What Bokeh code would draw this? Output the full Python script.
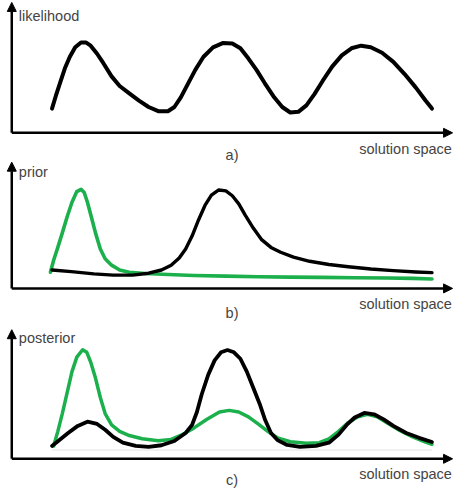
from bokeh.plotting import figure
from bokeh.models import Range1d, Arrow, NormalHead, Label
from bokeh.embed import file_html
from bokeh.resources import INLINE

# ---------------- data (arbitrary units) ----------------
# panel a) likelihood
like_x = [125, 137, 150, 165, 180, 197, 215, 230, 245, 265, 285, 310, 335, 365, 395, 425, 455, 485,
          505, 525, 545, 570, 595, 625, 655, 685, 710, 735, 760, 785, 815, 840, 865, 890, 915, 940,
          965, 995, 1025, 1055, 1085, 1115, 1150, 1185, 1220, 1255, 1285, 1305]
like_y = [75, 115, 155, 200, 235, 265, 280, 280, 270, 245, 215, 175, 145, 122, 100, 80, 67, 67,
          80, 110, 148, 195, 235, 265, 278, 277, 262, 230, 195, 155, 110, 80, 63, 65, 85, 120,
          160, 205, 240, 262, 270, 265, 248, 220, 182, 140, 100, 75]

# panel b) prior: green and black
prior_g_x = [120, 130, 143, 157, 172, 187, 202, 215, 225, 235, 247, 260, 275, 290, 310, 335, 365, 415,
             485, 565, 665, 765, 865, 965, 1065, 1165, 1245, 1305]
prior_g_y = [50, 87, 127, 172, 222, 267, 300, 307, 297, 267, 222, 172, 122, 92, 72, 57, 50, 46,
             43, 40, 38, 36, 35, 34, 33, 32, 31, 29]
prior_k_x = [125, 185, 255, 315, 375, 425, 465, 495, 520, 540, 560, 580, 600, 620, 643, 665, 685, 705,
             725, 750, 775, 805, 835, 875, 925, 985, 1045, 1115, 1185, 1255, 1305]
prior_k_y = [57, 52, 45, 41, 41, 47, 57, 72, 94, 122, 162, 212, 257, 289, 305, 302, 287, 262,
             227, 187, 152, 127, 112, 97, 84, 74, 67, 60, 55, 51, 49]

# panel c) posterior: green and black
post_g_x = [130, 143, 157, 172, 187, 202, 220, 233, 245, 260, 275, 290, 310, 335, 365, 405, 455, 495,
            530, 565, 605, 645, 675, 705, 735, 765, 795, 825, 865, 915, 955, 985, 1015, 1045, 1075,
            1105, 1135, 1165, 1205, 1245, 1285, 1305]
post_g_y = [40, 85, 140, 205, 270, 315, 338, 330, 300, 250, 190, 140, 105, 85, 72, 62, 56, 60,
            75, 95, 122, 145, 150, 145, 130, 108, 85, 65, 53, 48, 50, 62, 85, 112, 130,
            138, 130, 112, 88, 68, 52, 45]
post_k_x = [125, 150, 175, 205, 235, 265, 290, 315, 345, 385, 425, 465, 505, 540, 560, 575, 590, 610,
            630, 650, 670, 690, 710, 730, 750, 770, 787, 805, 825, 855, 895, 945, 985, 1015, 1040,
            1065, 1095, 1125, 1155, 1185, 1225, 1265, 1305]
post_k_y = [40, 60, 80, 102, 115, 108, 90, 68, 50, 40, 37, 42, 55, 80, 105, 145, 200, 260,
            305, 330, 337, 330, 310, 270, 220, 170, 120, 80, 58, 43, 37, 40, 50, 75, 105,
            128, 142, 138, 122, 102, 80, 65, 52]
base_x = [125, 1305]
base_y = [27, 27]

y_labels = ["likelihood", "prior", "posterior"]
x_label = "solution space"
panel_tags = ["a)", "b)", "c)"]

GREEN = "#1cb04c"
TEXT = "#444444"
FONT = "Liberation Sans"
FS = "14.5px"

# one figure, three stacked panels, each with its own vertical range
p = figure(width=454, height=488, x_range=Range1d(-35, 1375), y_range=Range1d(-1102, 410),
           output_backend="svg", toolbar_location=None, min_border=0,
           outline_line_color=None, background_fill_color="white", border_fill_color="white")
p.extra_y_ranges = {"b": Range1d(-620, 892), "c": Range1d(-92, 1420)}
p.xaxis.visible = False
p.yaxis.visible = False
p.grid.visible = False


def add_axes(rn, y_tip, x_tip):
    for xe, ye in ((0, y_tip), (x_tip, 0)):
        p.add_layout(Arrow(end=NormalHead(size=9, fill_color="black", line_color="black", line_width=1),
                           x_start=0, y_start=0, x_end=xe, y_end=ye, line_width=2.5,
                           line_color="black", y_range_name=rn))


def add_text(rn, ylab, ylab_y, xlab_y, tag, tag_y):
    common = dict(text_font=FONT, text_font_size=FS, text_color=TEXT,
                  text_baseline="alphabetic", y_range_name=rn)
    p.add_layout(Label(x=22, y=ylab_y, text=ylab, **common))
    p.add_layout(Label(x=1367, y=xlab_y, text=x_label, text_align="right", **common))
    p.add_layout(Label(x=684, y=tag_y, text=tag, text_align="center", **common))


def curve(rn, xs, ys, color, width):
    p.line(xs, ys, line_color=color, line_width=width, line_join="round", line_cap="round",
           y_range_name=rn)


# panel a
add_axes("default", 404, 1369)
curve("default", like_x, like_y, "black", 4)
add_text("default", y_labels[0], 362, -49, panel_tags[0], -68)

# panel b
add_axes("b", 391, 1369)
curve("b", prior_g_x, prior_g_y, GREEN, 3.6)
curve("b", prior_k_x, prior_k_y, "black", 3.4)
add_text("b", y_labels[1], 361, -49, panel_tags[1], -77)

# panel c
add_axes("c", 400, 1369)
p.line(base_x, base_y, line_color="#ececec", line_width=1.5, y_range_name="c")
curve("c", post_g_x, post_g_y, GREEN, 3.5)
curve("c", post_k_x, post_k_y, "black", 3.8)
add_text("c", y_labels[2], 373, -48.5, panel_tags[2], -65)

open("out.html", "w").write(file_html(p, INLINE))
